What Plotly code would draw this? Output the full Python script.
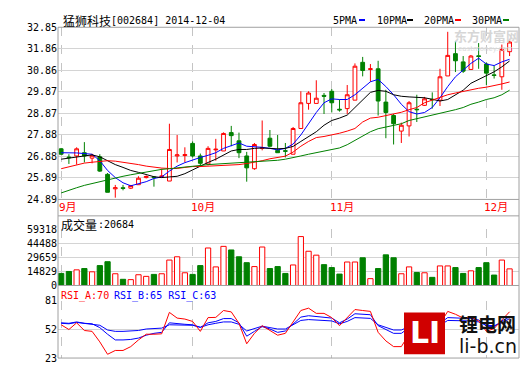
import plotly.graph_objects as go

# ---------------- data ----------------
days = list(range(59))
month_labels = ["9月", "10月", "11月", "12月"]
month_start = [0, 17, 35, 55]

opens = [27.23, 26.85, 26.90, 27.05, 26.80, 26.86, 26.05, 25.38, 25.43, 25.41,
         25.57, 25.90, 25.93, 25.95, 25.74, 26.90, 26.92, 27.48, 26.90, 26.53,
         27.18, 27.13, 27.98, 27.60, 26.90, 26.31, 27.25, 27.72, 27.16, 27.14,
         26.98, 28.17, 29.33, 29.33, 29.70, 29.89, 29.06, 29.09, 29.48, 31.23,
         30.90, 30.93, 29.39, 28.77, 28.05, 28.29, 29.06, 29.24, 29.52, 29.48,
         30.60, 31.63, 31.25, 30.90, 31.53, 31.15, 30.65, 30.56, 31.72]
highs = [27.27, 26.98, 27.30, 27.54, 27.00, 26.98, 26.11, 25.56, 25.56, 25.56,
         25.96, 26.00, 25.96, 26.31, 28.39, 27.87, 27.30, 27.57, 27.01, 27.35,
         27.69, 27.99, 28.29, 27.98, 27.09, 27.50, 28.54, 28.10, 27.87, 27.50,
         28.24, 29.89, 29.89, 30.40, 29.81, 29.99, 29.51, 30.18, 31.18, 31.48,
         31.15, 31.30, 29.96, 28.84, 28.44, 29.44, 29.73, 29.63, 29.84, 30.93,
         32.64, 32.22, 31.52, 31.57, 32.12, 31.23, 31.08, 32.05, 32.31]
lows = [26.95, 26.53, 26.50, 26.60, 26.56, 26.16, 25.22, 24.97, 25.31, 25.37,
        25.56, 25.86, 25.48, 25.90, 25.74, 26.60, 26.60, 26.83, 26.41, 26.46,
        26.68, 27.13, 27.35, 26.80, 25.71, 26.26, 27.16, 27.30, 27.05, 26.83,
        26.98, 28.17, 29.04, 29.33, 28.84, 28.91, 28.95, 28.84, 29.48, 30.58,
        30.33, 28.77, 27.72, 27.43, 27.50, 27.80, 28.47, 29.21, 29.09, 29.21,
        30.60, 30.78, 30.74, 30.90, 30.93, 30.18, 30.48, 29.96, 31.52]
closes = [26.98, 26.82, 27.23, 26.90, 26.93, 26.20, 25.22, 25.43, 25.40, 25.53,
          25.87, 25.95, 25.90, 25.97, 27.20, 26.95, 26.96, 26.90, 26.56, 27.25,
          27.21, 27.94, 27.84, 27.05, 26.35, 27.43, 27.28, 27.35, 27.05, 27.12,
          28.17, 29.36, 29.81, 29.57, 29.66, 29.36, 29.03, 29.73, 31.05, 30.85,
          30.93, 29.44, 28.91, 28.39, 28.32, 29.36, 29.04, 29.54, 29.50, 30.56,
          31.55, 31.30, 30.82, 31.52, 31.50, 30.73, 30.62, 31.82, 32.17]

ma5 = [27.05, 27.05, 27.04, 27.01, 26.98, 26.68, 26.23, 25.90, 25.66, 25.52,
       25.61, 25.71, 25.86, 25.93, 26.20, 26.43, 26.59, 26.72, 26.83, 26.93,
       27.05, 27.25, 27.39, 27.50, 27.35, 27.34, 27.30, 27.25, 27.18, 27.25,
       27.45, 27.87, 28.39, 28.91, 29.36, 29.54, 29.51, 29.51, 29.73, 30.03,
       30.33, 30.44, 30.11, 29.73, 29.29, 28.95, 28.84, 28.91, 29.14, 29.59,
       30.11, 30.56, 30.85, 31.18, 31.42, 31.15, 31.08, 31.25, 31.37]
ma10 = [26.75, 26.80, 26.86, 26.90, 26.95, 26.86, 26.68, 26.50, 26.37, 26.23,
        26.14, 26.05, 25.94, 25.90, 25.92, 25.96, 26.08, 26.26, 26.41, 26.60,
        26.75, 26.95, 27.13, 27.20, 27.20, 27.25, 27.27, 27.25, 27.23, 27.25,
        27.34, 27.57, 27.80, 28.02, 28.32, 28.54, 28.65, 28.79, 29.14, 29.51,
        29.84, 29.93, 29.89, 29.73, 29.66, 29.63, 29.61, 29.59, 29.52, 29.44,
        29.51, 29.73, 29.94, 30.26, 30.44, 30.63, 30.79, 31.02, 31.29]
ma20 = [26.31, 26.39, 26.48, 26.57, 26.61, 26.66, 26.68, 26.66, 26.61, 26.57,
        26.50, 26.43, 26.38, 26.34, 26.32, 26.32, 26.37, 26.41, 26.41, 26.43,
        26.43, 26.46, 26.48, 26.50, 26.55, 26.61, 26.68, 26.77, 26.83, 26.89,
        27.08, 27.35, 27.57, 27.75, 27.80, 27.87, 27.95, 28.05, 28.17, 28.47,
        28.65, 28.69, 28.77, 28.84, 28.92, 29.04, 29.14, 29.36, 29.48, 29.59,
        29.73, 29.81, 29.89, 29.96, 30.03, 30.08, 30.14, 30.23, 30.32]
ma30 = [25.19, 25.32, 25.43, 25.54, 25.63, 25.72, 25.78, 25.87, 25.96, 26.03,
        26.10, 26.16, 26.23, 26.28, 26.31, 26.34, 26.39, 26.43, 26.46, 26.50,
        26.52, 26.55, 26.57, 26.59, 26.61, 26.63, 26.66, 26.68, 26.70, 26.75,
        26.81, 26.90, 26.98, 27.05, 27.13, 27.20, 27.27, 27.42, 27.62, 27.82,
        28.02, 28.16, 28.24, 28.32, 28.39, 28.54, 28.62, 28.69, 28.77, 28.88,
        28.95, 29.04, 29.14, 29.29, 29.39, 29.51, 29.59, 29.73, 29.94]

volume = [12760, 14830, 16554, 17933, 14485, 21037, 25176, 12415, 6553, 6208,
          11381, 9656, 11726, 12415, 26900, 30349, 13450, 11726, 21037, 39660,
          19658, 41385, 37591, 30349, 24141, 20003, 40695, 17933, 20003, 12760,
          21727, 51731, 36212, 32073, 22072, 18968, 12070, 24831, 24831, 29314,
          7242, 17933, 32418, 29314, 12415, 19658, 13795, 13450, 8622, 20692,
          20692, 18968, 12760, 15519, 18968, 24141, 11036, 26900, 17588]

rsi_a = [56.8, 52.0, 58.8, 51.0, 50.1, 39.4, 26.8, 30.7, 30.7, 34.6,
         41.4, 47.2, 47.2, 47.6, 69.4, 63.6, 62.6, 60.2, 50.1, 64.1,
         64.3, 71.3, 69.9, 58.3, 37.5, 48.1, 55.9, 51.0, 46.2, 48.1,
         59.7, 71.3, 73.7, 68.4, 68.4, 64.1, 55.9, 64.6, 72.3, 71.3,
         70.4, 49.1, 40.4, 34.6, 34.6, 47.2, 49.1, 53.0, 52.0, 57.8,
         70.4, 67.5, 63.6, 64.6, 60.7, 50.1, 53.0, 61.7, 70.0]
rsi_b = [58.8, 58.3, 59.7, 58.3, 57.8, 53.9, 47.2, 41.4, 41.4, 41.9,
         43.3, 46.2, 48.1, 49.1, 58.8, 57.8, 57.3, 56.8, 54.2, 58.8,
         60.2, 63.1, 63.1, 58.8, 45.2, 50.1, 54.9, 52.5, 49.1, 50.5,
         57.8, 64.6, 66.0, 65.0, 64.6, 63.6, 58.8, 62.6, 68.0, 67.2,
         67.0, 55.9, 52.0, 48.1, 48.1, 53.9, 54.9, 55.9, 55.9, 58.3,
         64.1, 63.6, 63.1, 63.1, 61.7, 55.4, 54.9, 60.7, 65.0]
rsi_c = [58.3, 57.8, 59.2, 58.3, 57.8, 56.3, 51.5, 50.1, 50.1, 50.5,
         51.0, 52.5, 53.0, 53.4, 56.8, 56.8, 56.8, 56.3, 54.2, 56.8,
         58.3, 59.7, 59.7, 57.3, 50.5, 53.0, 55.4, 53.9, 52.5, 52.5,
         56.8, 61.2, 62.1, 61.7, 61.2, 60.7, 57.8, 60.2, 64.1, 63.6,
         63.3, 56.8, 53.9, 51.5, 51.5, 54.9, 55.4, 55.9, 55.9, 56.3,
         61.2, 61.2, 60.7, 60.7, 59.7, 56.3, 55.9, 58.8, 63.0]

price_ticks = [24.89, 25.89, 26.88, 27.88, 28.87, 29.87, 30.86, 31.86, 32.85]
price_labels = ["24.89", "25.89", "26.88", "27.88", "28.87", "29.87", "30.86", "31.86", "32.85"]
vol_ticks = [0, 14829, 29659, 44488, 59318]
vol_labels = ["0", "14829", "29659", "44488", "59318"]
rsi_ticks = [23, 52, 81]
rsi_labels = ["23", "52", "81"]

# ---------------- styling / geometry ----------------
W, H = 520, 365
L, R = 58, 519
RED, GREEN, BLUE, BLACK = "#FF0000", "#008000", "#0000FF", "#000000"
GRID = "#D4D4D4"
VGRID = "#C4C4C4"
FRAME = "#A0A0A0"
MONO = "DejaVu Sans Mono, Noto Sans CJK SC"
CJK = "Noto Sans CJK SC"


def px(x):
    return (x - L) / (R - L)


def py(y):
    return (H - y) / H


fig = go.Figure()

# candles
fig.add_trace(go.Candlestick(
    x=days, open=opens, high=highs, low=lows, close=closes,
    increasing=dict(line=dict(color=RED, width=1), fillcolor="#FFFFFF"),
    decreasing=dict(line=dict(color=GREEN, width=1), fillcolor=GREEN),
    whiskerwidth=0, xaxis="x", yaxis="y", showlegend=False, hoverinfo="skip"))

for vals, col in [(ma5, BLUE), (ma10, BLACK), (ma20, RED), (ma30, GREEN)]:
    fig.add_trace(go.Scatter(x=days, y=vals, mode="lines",
                             line=dict(color=col, width=1),
                             xaxis="x", yaxis="y", showlegend=False, hoverinfo="skip"))

# volume
up = [c >= o for o, c in zip(opens, closes)]
fig.add_trace(go.Bar(
    x=days, y=volume, width=0.68,
    marker=dict(color=["#FFFFFF" if u else GREEN for u in up],
                line=dict(color=[RED if u else GREEN for u in up], width=1)),
    xaxis="x2", yaxis="y2", showlegend=False, hoverinfo="skip"))

# RSI
for vals, col in [(rsi_c, BLUE), (rsi_b, BLUE), (rsi_a, RED)]:
    fig.add_trace(go.Scatter(x=days, y=vals, mode="lines",
                             line=dict(color=col, width=1),
                             xaxis="x3", yaxis="y3", showlegend=False, hoverinfo="skip"))

xcommon = dict(range=[-0.41, 59.22], tickvals=month_start, showticklabels=False,
               showgrid=True, gridcolor=VGRID, griddash="dash", gridwidth=1,
               zeroline=False, showline=False, ticks="", fixedrange=True)
ycommon = dict(showgrid=True, gridcolor=GRID, gridwidth=1, zeroline=False,
               showline=False, ticks="", fixedrange=True,
               tickfont=dict(family=MONO, size=10, color="#000000"))

fig.update_layout(
    width=W, height=H,
    margin=dict(l=L, r=W - R, t=0, b=0),
    paper_bgcolor="#FFFFFF", plot_bgcolor="#FFFFFF",
    showlegend=False, hovermode=False,
    xaxis=dict(**xcommon, anchor="y", rangeslider=dict(visible=False)),
    xaxis2=dict(**xcommon, anchor="y2"),
    xaxis3=dict(**xcommon, anchor="y3"),
    yaxis=dict(**ycommon, domain=[py(200), py(22)], range=[24.89, 32.85],
               tickvals=price_ticks, ticktext=price_labels),
    yaxis2=dict(**ycommon, domain=[py(289), py(231)], range=[0, 59318],
                tickvals=vol_ticks, ticktext=vol_labels),
    yaxis3=dict(**ycommon, domain=[py(364), py(305)], range=[23, 81],
                tickvals=rsi_ticks, ticktext=rsi_labels),
)

# frames
shapes = []


def hline(y, x0=L, x1=R, color=FRAME, width=1, layer="above"):
    shapes.append(dict(type="line", xref="paper", yref="paper",
                       x0=px(x0), x1=px(x1), y0=py(y), y1=py(y),
                       line=dict(color=color, width=width), layer=layer))


def vline(x, y0, y1, color=FRAME, width=1):
    shapes.append(dict(type="line", xref="paper", yref="paper",
                       x0=px(x), x1=px(x), y0=py(y0), y1=py(y1),
                       line=dict(color=color, width=width), layer="above"))


for y in [22, 200, 217, 289, 364]:
    hline(y)
vline(L, 22, 364)
vline(R, 22, 364)

# legend swatches
for x0, col in [(359, BLUE), (407, BLACK), (455, RED), (503, GREEN)]:
    shapes.append(dict(type="line", xref="paper", yref="paper",
                       x0=px(x0), x1=px(x0 + 6), y0=py(14.5), y1=py(14.5),
                       line=dict(color=col, width=2)))

# li-b.cn logo block
shapes.append(dict(type="rect", xref="paper", yref="paper",
                   x0=px(404), x1=px(445), y0=py(360), y1=py(317),
                   fillcolor="#D00000", line=dict(width=0), layer="above"))
fig.update_layout(shapes=shapes)

ann = []


def text(x, y, s, size=10, color="#000000", family=MONO, anchor="left", bold=False):
    if bold:
        s = "<b>" + s + "</b>"
    ann.append(dict(xref="paper", yref="paper", x=px(x), y=py(y), text=s,
                    showarrow=False, xanchor=anchor, yanchor="middle",
                    font=dict(size=size, color=color, family=family)))


# header texts
text(61, 15, "猛狮科技", size=12, family=CJK)
text(109, 15, "[002684] 2014-12-04", size=10)
text(331, 14.5, "5PMA")
text(375, 14.5, "10PMA")
text(422, 14.5, "20PMA")
text(470, 14.5, "30PMA")
text(59, 226, "成交量", size=12, family=CJK)
text(96, 226, ":20684", size=10)
text(59, 299.5, "RSI_A:70", size=10, color=RED)
text(112, 299.5, "RSI_B:65 RSI_C:63", size=10, color=BLUE)

# month labels at the first trading day of each month
for m, i in zip(month_labels, month_start):
    ann.append(dict(xref="x", yref="paper", x=i, y=py(208), text=m,
                    showarrow=False, xanchor="left", yanchor="middle", xshift=-4,
                    font=dict(size=11, color=RED, family=MONO)))

# watermarks
text(452, 30, "东方财富网", size=13, color="#D6D6D6", family=CJK, bold=True)
text(456, 44, "eastmoney.com", size=7, color="#DADADA", family="DejaVu Sans")
text(424.5, 338, "LI", size=30, color="#FFFFFF", family="DejaVu Sans", anchor="center", bold=True)
text(457, 328, "锂电网", size=19, color="#111111", family=CJK, bold=True)
text(457, 352, "li-b.cn", size=19, color="#111111", family="DejaVu Sans")

fig.update_layout(annotations=ann)

fig.write_html("out.html", include_plotlyjs=True,
               config={"displayModeBar": False, "staticPlot": True},
               post_script="document.body.style.margin='0';document.body.style.overflow='hidden';")
